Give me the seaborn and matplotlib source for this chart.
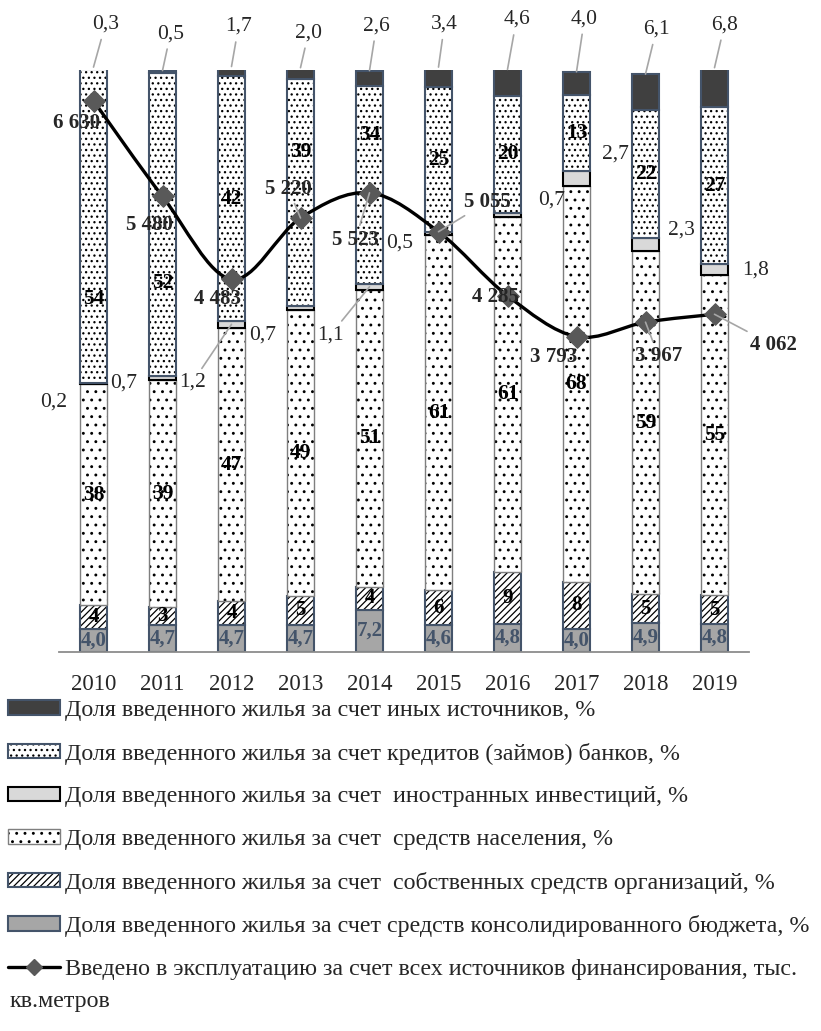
import numpy as np
import pandas as pd
import matplotlib
matplotlib.use("Agg")
import matplotlib.pyplot as plt
import seaborn as sns
from matplotlib.patches import Patch, PathPatch
from matplotlib.lines import Line2D
from matplotlib.path import Path
from matplotlib.legend_handler import HandlerTuple

# ------------------------------------------
# Data (shares of housing commissioned by source, %)
# ------------------------------------------
years = ["2010", "2011", "2012", "2013", "2014", "2015", "2016", "2017", "2018", "2019"]
budget = [4.0, 4.7, 4.7, 4.7, 7.2, 4.6, 4.8, 4.0, 4.9, 4.8]
own_funds = [4, 3, 4, 5, 4, 6, 9, 8, 5, 5]
population = [38, 39, 47, 49, 51, 61, 61, 68, 59, 55]
foreign = [0.2, 0.7, 1.2, 0.7, 1.1, 0.5, 0.7, 2.7, 2.3, 1.8]
credits = [54, 52, 42, 39, 34, 25, 20, 13, 22, 27]
other = [0.3, 0.5, 1.7, 2.0, 2.6, 3.4, 4.6, 4.0, 6.1, 6.8]
total_area = [6630, 5480, 4483, 5220, 5523, 5055, 4285, 3793, 3967, 4062]

legend_labels = [
    "Доля введенного жилья за счет иных источников, %",
    "Доля введенного жилья за счет кредитов (займов) банков, %",
    "Доля введенного жилья за счет  иностранных инвестиций, %",
    "Доля введенного жилья за счет  средств населения, %",
    "Доля введенного жилья за счет  собственных средств организаций, %",
    "Доля введенного жилья за счет средств консолидированного бюджета, %",
    "Введено в эксплуатацию за счет всех источников финансирования, тыс.",
]

# ------------------------------------------
# Label placement (pixel offsets from anchor)
# ------------------------------------------
other_off = [(12, 43), (8, 37), (7, 40), (8, 35), (7, 45), (6, 43), (9, 50), (8, 53), (11, 45), (10, 43)]
foreign_off = [(-40, -18), (-39, -5), (-39, -58), (-38, -27), (-39, -48),
               (-39, -9), (44, 15), (39, 24), (36, 14), (41, 0)]
foreign_leader = [False, False, True, False, True, False, False, False, False, False]
credit_shift = [-12.5, -10, 0, 7, 8.5, 0, 0, 0, 0, 0]
area_off = [(-17, -22), (-13, -29), (-14, -20), (-12, 29), (-14, -47),
            (49, 30), (-12, -1), (-23, -20), (13, -34), (59, -31)]
area_leader = [False, False, False, True, True, True, False, False, True, True]

SLATE = "#44546a"
LEADER = "#a6a6a6"


def fmt1(v):
    return f"{v:.1f}".replace(".", ",")


sns.set_style("white")
plt.rcParams["font.family"] = ["Liberation Serif", "DejaVu Serif"]
plt.rcParams["hatch.linewidth"] = 0.9

fig = plt.figure(figsize=(8.21, 10.31), dpi=100)
ax = fig.add_axes([59 / 821, 379 / 1031, 690 / 821, 582 / 1031])


def stack(values, bottom, face, hatch, edge, lw):
    df = pd.DataFrame({"year": years, "value": values})
    if hatch:
        sns.barplot(data=df, x="year", y="value", bottom=bottom, width=0.4,
                    color=face, saturation=1, errorbar=None, hatch=hatch,
                    edgecolor="black", linewidth=0, ax=ax)
        face = "none"
    sns.barplot(data=df, x="year", y="value", bottom=bottom, width=0.4,
                color="white", facecolor=face, saturation=1, errorbar=None,
                edgecolor=edge, linewidth=lw, ax=ax)


# cumulative bottoms
b_budget = np.zeros(10)
b_own = b_budget + np.array(budget)
b_pop = b_own + np.array(own_funds)
b_for = b_pop + np.array(population)
b_cred = b_for + np.array(foreign)
b_other = b_cred + np.array(credits)

stack(budget, b_budget, "#a6a6a6", None, SLATE, 1.5)
stack(own_funds, b_own, "white", "/////", SLATE, 1.5)
stack(population, b_pop, "white", "..", "#7f7f7f", 1.0)
stack(foreign, b_for, "#d9d9d9", None, "black", 1.5)
stack(credits, b_cred, "white", "...", SLATE, 1.5)
stack(other, b_other, "#404040", None, SLATE, 1.5)

# ------------------------------------------
# Bar labels
# ------------------------------------------
for i in range(10):
    ax.text(i, b_budget[i] + budget[i] / 2, fmt1(budget[i]), ha="center", va="center",
            fontsize=15, fontweight="bold", color=SLATE, zorder=6)
    ax.text(i, b_own[i] + own_funds[i] / 2, str(own_funds[i]), ha="center", va="center",
            fontsize=15, fontweight="bold", color="black", zorder=6)
    ax.text(i, b_pop[i] + population[i] / 2, str(population[i]), ha="center", va="center",
            fontsize=15.5, fontweight="bold", color="black", zorder=6)
    ax.text(i, b_cred[i] + credits[i] / 2 + credit_shift[i], str(credits[i]),
            ha="center", va="center", fontsize=15.5, fontweight="bold", color="black", zorder=6)
    ax.annotate(fmt1(other[i]), xy=(i, b_other[i] + other[i]), xytext=other_off[i],
                textcoords="offset pixels", ha="center", va="center", fontsize=15.5,
                annotation_clip=False, zorder=6,
                arrowprops=dict(arrowstyle="-", color=LEADER, lw=1.2, shrinkA=2, shrinkB=0))
    arrow = dict(arrowstyle="-", color=LEADER, lw=1.2, shrinkA=1, shrinkB=0) if foreign_leader[i] else None
    ax.annotate(fmt1(foreign[i]), xy=(i, b_for[i] + foreign[i] / 2), xytext=foreign_off[i],
                textcoords="offset pixels", ha="center", va="center", fontsize=15.5,
                annotation_clip=False, zorder=6, arrowprops=arrow)

ax.set_xlim(-0.5, 9.5)
ax.set_ylim(0, 100)
ax.set_xlabel("")
ax.set_ylabel("")
ax.set_yticks([])
ax.set_xticks(range(10))
ax.set_xticklabels(years, fontsize=16.5)
ax.tick_params(axis="x", length=0, pad=16)
for side in ["left", "right", "top"]:
    ax.spines[side].set_visible(False)
ax.spines["bottom"].set_color("#8c8c8c")
ax.spines["bottom"].set_linewidth(1.3)

# ------------------------------------------
# Smoothed line on secondary axis
# ------------------------------------------
ax2 = ax.twinx()
xs = np.arange(10.0)
ys = np.array(total_area, dtype=float)
verts = [(xs[0], ys[0])]
codes = [Path.MOVETO]
for i in range(9):
    p0 = max(i - 1, 0)
    p3 = min(i + 2, 9)
    c1 = (xs[i] + (xs[i + 1] - xs[p0]) / 6, ys[i] + (ys[i + 1] - ys[p0]) / 6)
    c2 = (xs[i + 1] - (xs[p3] - xs[i]) / 6, ys[i + 1] - (ys[p3] - ys[i]) / 6)
    verts += [c1, c2, (xs[i + 1], ys[i + 1])]
    codes += [Path.CURVE4] * 3
ax2.add_patch(PathPatch(Path(verts, codes), fill=False, edgecolor="black", lw=2.4, zorder=2))
sns.scatterplot(x=xs, y=total_area, marker="D", s=120, color="#595959",
                edgecolor="#595959", legend=False, zorder=3, ax=ax2)

for i in range(10):
    arrow = dict(arrowstyle="-", color=LEADER, lw=1.2, shrinkA=1, shrinkB=0) if area_leader[i] else None
    ax2.annotate(f"{total_area[i]:,}".replace(",", " "), xy=(i, total_area[i]),
                 xytext=area_off[i], textcoords="offset pixels", ha="center", va="center",
                 fontsize=15, fontweight="bold", arrowprops=arrow, zorder=4)

ax2.set_ylim(0, 7000)
ax2.set_xlim(-0.5, 9.5)
ax2.axis("off")

# ------------------------------------------
# Legend
# ------------------------------------------
handles = [
    Patch(facecolor="#404040", edgecolor=SLATE, lw=1.5),
    (Patch(facecolor="white", hatch="...", edgecolor="black", lw=0),
     Patch(facecolor="none", edgecolor=SLATE, lw=1.5)),
    Patch(facecolor="#d9d9d9", edgecolor="black", lw=1.5),
    (Patch(facecolor="white", hatch="..", edgecolor="black", lw=0),
     Patch(facecolor="none", edgecolor="#7f7f7f", lw=1.0)),
    (Patch(facecolor="white", hatch="/////", edgecolor="black", lw=0),
     Patch(facecolor="none", edgecolor=SLATE, lw=1.5)),
    Patch(facecolor="#a6a6a6", edgecolor=SLATE, lw=1.5),
    Line2D([], [], color="black", lw=2.4, marker="D", markersize=8,
           markerfacecolor="#595959", markeredgecolor="#595959"),
]
fig.legend(handles, legend_labels, loc="upper left", bbox_to_anchor=(8 / 821, 1 - 700 / 1031),
           frameon=False, fontsize=17.3, handlelength=2.17, handleheight=0.55,
           handletextpad=0.2, labelspacing=0.9, borderpad=0, borderaxespad=0,
           handler_map={tuple: HandlerTuple(ndivide=1)})
fig.text(10 / 821, 1 - 1001 / 1031, "кв.метров", fontsize=17.3, va="center", ha="left")

plt.savefig("out.png", dpi=100)
